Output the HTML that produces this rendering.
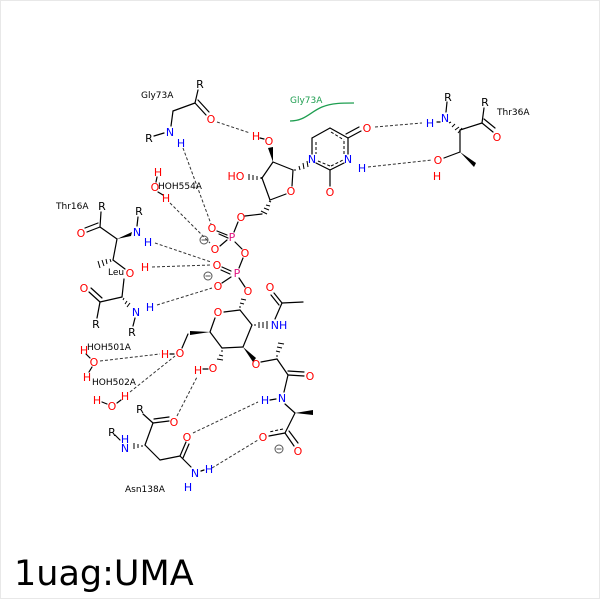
<!DOCTYPE html>
<html><head><meta charset="utf-8"><style>
html,body{margin:0;padding:0;background:#fff;}
svg{display:block;font-family:"DejaVu Sans","Liberation Sans",sans-serif;}
.b{stroke:#000;stroke-width:1.2;fill:none;stroke-linecap:round;}
.d{stroke:#333;stroke-width:1;fill:none;stroke-dasharray:3,2;}
.a{font-size:11px;text-anchor:middle;}
.O{fill:#f00;} .N{fill:#00f;} .P{fill:#e0117f;} .K{fill:#000;}
.l{font-size:9px;fill:#000;}
</style></head><body>
<svg width="600" height="600" viewBox="0 0 600 600" xmlns="http://www.w3.org/2000/svg">
<rect x="0.5" y="0.5" width="599" height="598" fill="#fff" stroke="#e8e8e8" stroke-width="1"/>

<!-- dashed h-bonds -->
<g class="d">
<line x1="217" y1="122" x2="250" y2="133"/>
<line x1="183" y1="148" x2="211" y2="224"/>
<line x1="170" y1="203" x2="210" y2="243"/>
<line x1="155" y1="243" x2="211" y2="262"/>
<line x1="152" y1="267" x2="211" y2="265"/>
<line x1="157" y1="305" x2="212" y2="288"/>
<line x1="375" y1="127" x2="422" y2="123"/>
<line x1="368" y1="167" x2="432" y2="160"/>
<line x1="100" y1="361" x2="160" y2="354"/>
<line x1="130" y1="392" x2="175" y2="356"/>
<line x1="177" y1="416" x2="197" y2="377"/>
<line x1="193" y1="433" x2="258" y2="402"/>
<line x1="212" y1="468" x2="258" y2="440"/>
</g>

<!-- green label arc -->
<path d="M290,121 C305,121 310,112 322,107 C332,103 342,103 354,103" stroke="#1e9e50" stroke-width="1.3" fill="none"/>
<text x="290" y="103" class="l" style="fill:#1e9e50">Gly73A</text>

<!-- bonds -->
<g class="b">
<!-- Gly73A -->
<line x1="198" y1="90" x2="195" y2="103"/>
<line x1="195" y1="103" x2="206" y2="115"/>
<line x1="198" y1="100" x2="209" y2="112"/>
<line x1="195" y1="103" x2="173" y2="111"/>
<line x1="173" y1="111" x2="171" y2="126"/>
<line x1="154" y1="136" x2="164" y2="133"/>
<!-- ribose -->
<line x1="260" y1="138" x2="264" y2="139"/>
<line x1="273" y1="162" x2="262" y2="178"/>
<line x1="262" y1="178" x2="270" y2="200"/>
<line x1="270" y1="200" x2="286" y2="194"/>
<line x1="292" y1="186" x2="293" y2="170"/>
<line x1="293" y1="170" x2="273" y2="162"/>
<line x1="262" y1="214" x2="245" y2="216"/>
<!-- uracil -->
<line x1="312" y1="154" x2="312" y2="138"/>
<line x1="312" y1="138" x2="330" y2="128"/>
<line x1="330" y1="128" x2="348" y2="138"/>
<line x1="348" y1="138" x2="348" y2="154"/>
<line x1="344" y1="163" x2="330" y2="170"/>
<line x1="330" y1="170" x2="316" y2="163"/>
<line x1="348" y1="138" x2="361" y2="131"/>
<line x1="346" y1="134" x2="359" y2="127"/>
<line x1="330" y1="170" x2="330" y2="186"/>
<!-- Thr36A -->
<line x1="437" y1="122" x2="440" y2="122"/>
<line x1="447" y1="102" x2="446" y2="112"/>
<line x1="460" y1="130" x2="482" y2="123"/>
<line x1="482" y1="123" x2="484" y2="108"/>
<line x1="482" y1="123" x2="493" y2="132"/>
<line x1="484" y1="119" x2="495" y2="128"/>
<line x1="460" y1="130" x2="460" y2="152"/>
<line x1="460" y1="152" x2="444" y2="158"/>
<!-- Thr16A -->
<line x1="101" y1="212" x2="100" y2="227"/>
<line x1="100" y1="227" x2="87" y2="232"/>
<line x1="98" y1="223" x2="85" y2="228"/>
<line x1="100" y1="227" x2="117" y2="239"/>
<line x1="138" y1="217" x2="137" y2="226"/>
<line x1="117" y1="239" x2="113" y2="260"/>
<line x1="113" y1="260" x2="125" y2="269"/>
<line x1="124" y1="279" x2="122" y2="297"/>
<!-- Leu17A -->
<line x1="122" y1="297" x2="100" y2="302"/>
<line x1="100" y1="302" x2="89" y2="292"/>
<line x1="102" y1="298" x2="91" y2="288"/>
<line x1="100" y1="302" x2="97" y2="318"/>
<line x1="135" y1="318" x2="133" y2="326"/>
<!-- phosphates -->
<line x1="234" y1="232" x2="238" y2="222"/>
<line x1="227" y1="235" x2="217" y2="231"/>
<line x1="228" y1="238" x2="219" y2="234"/>
<line x1="227" y1="240" x2="220" y2="246"/>
<line x1="235" y1="242" x2="242" y2="249"/>
<line x1="243" y1="258" x2="239" y2="268"/>
<line x1="231" y1="271" x2="222" y2="267"/>
<line x1="230" y1="274" x2="221" y2="270"/>
<line x1="231" y1="277" x2="222" y2="283"/>
<line x1="239" y1="278" x2="245" y2="287"/>
<!-- GlcNAc -->
<line x1="240" y1="310" x2="224" y2="312"/>
<line x1="240" y1="310" x2="252" y2="325"/>
<line x1="252" y1="325" x2="243" y2="347"/>
<line x1="243" y1="347" x2="222" y2="348"/>
<line x1="222" y1="348" x2="210" y2="332"/>
<line x1="210" y1="332" x2="215" y2="318"/>
<line x1="188" y1="334" x2="182" y2="348"/>
<line x1="275" y1="319" x2="282" y2="303"/>
<line x1="282" y1="303" x2="274" y2="293"/>
<line x1="279" y1="305" x2="271" y2="295"/>
<line x1="282" y1="303" x2="303" y2="302"/>
<line x1="261" y1="362" x2="277" y2="359"/>
<line x1="277" y1="359" x2="288" y2="375"/>
<line x1="288" y1="375" x2="304" y2="376"/>
<line x1="288" y1="371" x2="304" y2="372"/>
<line x1="288" y1="375" x2="284" y2="392"/>
<line x1="285" y1="404" x2="295" y2="413"/>
<line x1="295" y1="413" x2="285" y2="433"/>
<line x1="285" y1="433" x2="269" y2="436"/>
<line x1="285" y1="433" x2="294" y2="446"/>
<line x1="289" y1="431" x2="298" y2="443"/>
<line x1="208" y1="369" x2="203" y2="369"/>
<line x1="170" y1="354" x2="174" y2="354"/>
<!-- Asn138A -->
<line x1="115" y1="435" x2="120" y2="440"/>
<line x1="143" y1="414" x2="153" y2="423"/>
<line x1="153" y1="423" x2="169" y2="421"/>
<line x1="154" y1="419" x2="169" y2="417"/>
<line x1="153" y1="423" x2="145" y2="445"/>
<line x1="145" y1="445" x2="160" y2="460"/>
<line x1="160" y1="460" x2="180" y2="456"/>
<line x1="180" y1="456" x2="186" y2="442"/>
<line x1="183" y1="458" x2="189" y2="444"/>
<line x1="180" y1="456" x2="191" y2="467"/>
<line x1="201" y1="471" x2="204" y2="470"/>
<!-- waters -->
<line x1="157" y1="177" x2="156" y2="182"/>
<line x1="158" y1="192" x2="163" y2="195"/>
<line x1="86" y1="354" x2="90" y2="358"/>
<line x1="92" y1="367" x2="89" y2="372"/>
<line x1="102" y1="402" x2="107" y2="404"/>
<line x1="117" y1="403" x2="121" y2="400"/>
<line x1="270" y1="400" x2="276" y2="399"/>
</g>

<!-- inner aromatic dashes -->
<g stroke="#000" stroke-width="1" stroke-dasharray="3,2" fill="none">
<line x1="316" y1="142" x2="316" y2="154"/>
<line x1="331" y1="132" x2="344" y2="140"/>
<line x1="344" y1="141" x2="344" y2="154"/>
<line x1="318" y1="161" x2="330" y2="166"/>
<line x1="331" y1="166" x2="343" y2="160"/>
<line x1="283" y1="429" x2="269" y2="432"/>
</g>

<!-- wedges (bold) -->
<g fill="#000">
<polygon points="273,162 268,148 273,147"/>
<polygon points="117,239 132,232 131,236"/>
<polygon points="460,152 476,163 474,167"/>
<polygon points="243,347 253,362 256,358"/>
<polygon points="210,332 190,331 190,335"/>
<polygon points="295,413 313,410 313,415"/>
</g>
<!-- hashed wedges -->
<g stroke="#000" stroke-width="1">
<line x1="261" y1="177" x2="261" y2="179"/><line x1="257" y1="176" x2="257" y2="180"/><line x1="253" y1="175" x2="253" y2="180"/><line x1="249" y1="174" x2="249" y2="180"/>
<line x1="295" y1="169" x2="295" y2="171"/><line x1="299" y1="166" x2="300" y2="170"/><line x1="303" y1="163" x2="304" y2="169"/><line x1="307" y1="161" x2="308" y2="167"/>
<line x1="269" y1="201" x2="271" y2="202"/><line x1="266" y1="205" x2="270" y2="206"/><line x1="264" y1="208" x2="269" y2="210"/><line x1="261" y1="211" x2="267" y2="214"/>
<line x1="449" y1="123" x2="451" y2="122"/><line x1="452" y1="127" x2="455" y2="124"/><line x1="455" y1="130" x2="459" y2="127"/><line x1="458" y1="133" x2="462" y2="128"/>
<line x1="110" y1="259" x2="111" y2="262"/><line x1="106" y1="259" x2="107" y2="264"/><line x1="102" y1="260" x2="104" y2="266"/><line x1="98" y1="261" x2="100" y2="268"/>
<line x1="124" y1="298" x2="123" y2="300"/><line x1="127" y1="301" x2="125" y2="304"/><line x1="130" y1="303" x2="127" y2="307"/>
<line x1="239" y1="307" x2="241" y2="307"/><line x1="240" y1="303" x2="244" y2="304"/><line x1="241" y1="299" x2="246" y2="300"/>
<line x1="255" y1="324" x2="255" y2="326"/><line x1="259" y1="322" x2="259" y2="328"/><line x1="263" y1="322" x2="263" y2="328"/><line x1="267" y1="321" x2="267" y2="329"/>
<line x1="221" y1="351" x2="223" y2="351"/><line x1="219" y1="355" x2="223" y2="356"/><line x1="217" y1="359" x2="223" y2="360"/>
<line x1="278" y1="356" x2="276" y2="356"/><line x1="280" y1="352" x2="276" y2="351"/><line x1="282" y1="348" x2="277" y2="347"/><line x1="284" y1="344" x2="278" y2="343"/>
<line x1="142" y1="445" x2="142" y2="447"/><line x1="138" y1="444" x2="138" y2="448"/><line x1="134" y1="443" x2="134" y2="449"/>
</g>

<!-- minus charges -->
<g stroke="#555" stroke-width="1" fill="none">
<circle cx="204" cy="240" r="4"/><line x1="201.5" y1="240" x2="206.5" y2="240"/>
<circle cx="208" cy="276" r="4"/><line x1="205.5" y1="276" x2="210.5" y2="276"/>
<circle cx="279" cy="449" r="4"/><line x1="276.5" y1="449" x2="281.5" y2="449"/>
</g>

<!-- residue labels -->
<text x="141" y="98" class="l">Gly73A</text>
<text x="497" y="115" class="l">Thr36A</text>
<text x="56" y="209" class="l">Thr16A</text>
<text x="108" y="275" class="l">Leu</text>
<text x="158" y="189" class="l">HOH554A</text>
<text x="87" y="350" class="l">HOH501A</text>
<text x="92" y="385" class="l">HOH502A</text>
<text x="125" y="492" class="l">Asn138A</text>

<!-- atom labels -->
<g class="a">
<text x="200" y="88" class="K">R</text>
<text x="211" y="123" class="O">O</text>
<text x="170" y="136" class="N">N</text>
<text x="149" y="142" class="K">R</text>
<text x="181" y="147" class="N">H</text>
<text x="256" y="140" class="O">H</text>
<text x="269" y="145" class="O">O</text>
<text x="236" y="180" class="O">HO</text>
<text x="291" y="195" class="O">O</text>
<text x="241" y="221" class="O">O</text>
<text x="312" y="163" class="N">N</text>
<text x="348" y="163" class="N">N</text>
<text x="362" y="172" class="N">H</text>
<text x="367" y="132" class="O">O</text>
<text x="330" y="196" class="O">O</text>
<text x="430" y="127" class="N">H</text>
<text x="445" y="122" class="N">N</text>
<text x="448" y="101" class="K">R</text>
<text x="485" y="106" class="K">R</text>
<text x="497" y="141" class="O">O</text>
<text x="438" y="164" class="O">O</text>
<text x="437" y="180" class="O">H</text>
<text x="158" y="176" class="O">H</text>
<text x="155" y="191" class="O">O</text>
<text x="166" y="202" class="O">H</text>
<text x="102" y="210" class="K">R</text>
<text x="81" y="237" class="O">O</text>
<text x="137" y="236" class="N">N</text>
<text x="139" y="215" class="K">R</text>
<text x="148" y="246" class="N">H</text>
<text x="130" y="277" class="O">O</text>
<text x="145" y="271" class="O">H</text>
<text x="84" y="292" class="O">O</text>
<text x="96" y="328" class="K">R</text>
<text x="136" y="316" class="N">N</text>
<text x="150" y="311" class="N">H</text>
<text x="132" y="336" class="K">R</text>
<text x="212" y="232" class="O">O</text>
<text x="232" y="241" class="P">P</text>
<text x="215" y="253" class="O">O</text>
<text x="245" y="257" class="O">O</text>
<text x="237" y="277" class="P">P</text>
<text x="217" y="269" class="O">O</text>
<text x="218" y="290" class="O">O</text>
<text x="248" y="295" class="O">O</text>
<text x="218" y="316" class="O">O</text>
<text x="270" y="291" class="O">O</text>
<text x="279" y="329" class="N">NH</text>
<text x="256" y="368" class="O">O</text>
<text x="310" y="380" class="O">O</text>
<text x="282" y="402" class="N">N</text>
<text x="265" y="404" class="N">H</text>
<text x="263" y="441" class="O">O</text>
<text x="298" y="455" class="O">O</text>
<text x="213" y="372" class="O">O</text>
<text x="198" y="374" class="O">H</text>
<text x="180" y="357" class="O">O</text>
<text x="165" y="358" class="O">H</text>
<text x="84" y="354" class="O">H</text>
<text x="94" y="366" class="O">O</text>
<text x="87" y="381" class="O">H</text>
<text x="97" y="404" class="O">H</text>
<text x="112" y="410" class="O">O</text>
<text x="125" y="400" class="O">H</text>
<text x="140" y="413" class="K">R</text>
<text x="174" y="426" class="O">O</text>
<text x="112" y="436" class="K">R</text>
<text x="125" y="443" class="N">H</text>
<text x="125" y="452" class="N">N</text>
<text x="187" y="441" class="O">O</text>
<text x="195" y="477" class="N">N</text>
<text x="209" y="473" class="N">H</text>
<text x="188" y="491" class="N">H</text>
</g>

<text x="14" y="585" style="font-size:35px;fill:#000">1uag:UMA</text>
</svg>
</body></html>
